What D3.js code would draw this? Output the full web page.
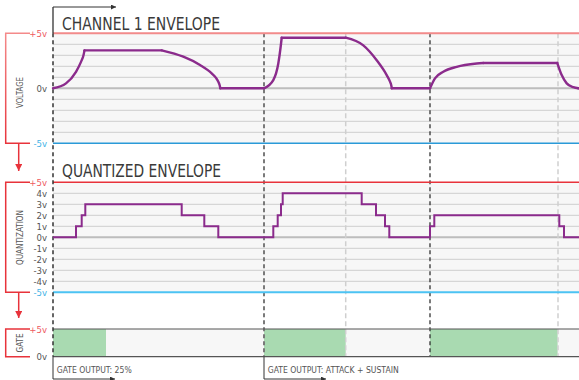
<!DOCTYPE html>
<html><head><meta charset="utf-8">
<script src="https://cdn.jsdelivr.net/npm/d3@7/dist/d3.min.js"></script>
<style>
body{margin:0;background:#fff}
svg{display:block}
text{font-family:'Liberation Sans Narrow','DejaVu Sans Condensed','Roboto',sans-serif}
</style>
</head><body>
<svg id="c" width="579" height="380"></svg>
<script>
// ---- data (time in arbitrary units, voltage in volts) ----
const titles = ["CHANNEL 1 ENVELOPE", "QUANTIZED ENVELOPE"];
const sideLabels = ["VOLTAGE", "QUANTIZATION", "GATE"];
const gateNotes = ["GATE OUTPUT: 25%", "GATE OUTPUT: ATTACK + SUSTAIN"];
const gateNoteT = [0, 211];

const envT = [0,13,23,28,30.5,31.5, 108.7,130.3,147,158.7,163,165.3,166.6,167.3,
              211,220.3,225.3,227.7,228.7,
              292.7,310.3,323.7,333.7,337,338.3,338.8,
              377,382,390.3,403.7,423.7,430.3,
              504.3,508.7,513.7,520.3,525.3,526];
const envV = [0,0.45,1.5,2.4,3.0,3.45, 3.45,2.87,2.12,1.36,0.95,0.6,0.3,0,
              0,0.75,2.25,3.8,4.6,
              4.6,3.9,2.55,1.2,0.6,0.25,0,
              0,0.9,1.5,1.95,2.25,2.3,
              2.3,1.2,0.45,0.1,0,0];
const envCorners = [0,5,6,13,14,18,19,25,26,31,32,36,37];

const qT = [0,23,28.7,32.3,128.7,151.3,165.3,220.3,224.7,228,229.7,308.7,323,332,336.3,377,381.3,506.3,511,526];
const qV = [0,1,2,3,2,1,0,1,2,3,4,3,2,1,0,1,2,1,0,0];

const gateStart = [0, 211, 377];
const gateEnd   = [53, 292.7, 504.6];

const markerT = [211, 292.7, 377, 505];
const markerKind = ["dark", "light", "black", "light"];

const panel1Ticks = [5, 0, -5];
const panel1TickLabels = ["+5v", "0v", "-5v"];
const panel2Ticks = [5,4,3,2,1,0,-1,-2,-3,-4,-5];
const panel2TickLabels = ["+5v","4v","3v","2v","1v","0v","-1v","-2v","-3v","-4v","-5v"];
const gateTicks = [5, 0];
const gateTickLabels = ["+5v", "0v"];
const gridVolts = [-4,-3,-2,-1,1,2,3,4];

// ---- layout ----
const svg = d3.select("#c");
const X0 = 53, X1 = 579;
const x = d3.scaleLinear().domain([0, 526]).range([X0, X1]);
const y1 = d3.scaleLinear().domain([-5, 5]).range([143.3, 33.3]);
const y2 = d3.scaleLinear().domain([-5, 5]).range([292.3, 182.3]);
const yG = d3.scaleLinear().domain([0, 5]).range([356.7, 329]);

const RED = "#e8333b", PINK = "#f28a8a", BLUE1 = "#2a9ad8", BLUE2 = "#4cc3f3";
const PURPLE = "#8b2b8c", GRID = "#d6d6d6", BG = "#f7f7f7";

// defs: arrowheads
const defs = svg.append("defs");
function marker(id, color, w, h) {
  defs.append("marker").attr("id", id).attr("viewBox", "0 0 10 10")
    .attr("refX", 10).attr("refY", 5).attr("markerWidth", w).attr("markerHeight", h)
    .attr("markerUnits", "userSpaceOnUse").attr("orient", "auto")
    .append("path").attr("d", "M0,0L10,5L0,10Z").attr("fill", color);
}
marker("arrRed", RED, 8, 7);
marker("arrDark", "#333", 5, 5);

// backgrounds
[[y1, PINK, BLUE1], [y2, RED, BLUE2]].forEach(([ys, top, bot]) => {
  svg.append("rect").attr("x", X0).attr("y", ys(5)).attr("width", X1 - X0)
    .attr("height", ys(-5) - ys(5)).attr("fill", BG);
  svg.append("g").selectAll("line").data(gridVolts).join("line")
    .attr("x1", X0).attr("x2", X1).attr("y1", d => ys(d)).attr("y2", d => ys(d))
    .attr("stroke", GRID).attr("stroke-width", 1.3);
  svg.append("line").attr("x1", X0).attr("x2", X1).attr("y1", ys(0)).attr("y2", ys(0))
    .attr("stroke", "#bdbdbd").attr("stroke-width", 2);
});
svg.append("rect").attr("x", X0).attr("y", yG(5)).attr("width", X1 - X0)
  .attr("height", yG(0) - yG(5)).attr("fill", BG);

// gate bars
svg.append("g").selectAll("rect").data(gateStart).join("rect")
  .attr("x", (d) => x(d)).attr("y", yG(5))
  .attr("width", (d, i) => x(gateEnd[i]) - x(d)).attr("height", yG(0) - yG(5))
  .attr("fill", "#a9dab1");

// vertical markers
const mStyle = {
  dark: {c: "#7a7a7a", w: 2, dash: "4,3"},
  light: {c: "#cfcfcf", w: 1.5, dash: "5,3"},
  black: {c: "#222", w: 1.2, dash: "4,3"}
};
svg.append("g").selectAll("line").data(markerT).join("line")
  .attr("x1", d => x(d)).attr("x2", d => x(d)).attr("y1", y1(5)).attr("y2", yG(0))
  .attr("stroke", (d, i) => mStyle[markerKind[i]].c)
  .attr("stroke-width", (d, i) => mStyle[markerKind[i]].w)
  .attr("stroke-dasharray", (d, i) => mStyle[markerKind[i]].dash);

// boundary lines
svg.append("line").attr("x1", X0).attr("x2", X1).attr("y1", y1(5)).attr("y2", y1(5)).attr("stroke", PINK).attr("stroke-width", 2);
svg.append("line").attr("x1", X0).attr("x2", X1).attr("y1", y1(-5)).attr("y2", y1(-5)).attr("stroke", BLUE1).attr("stroke-width", 1.5);
svg.append("line").attr("x1", X0).attr("x2", X1).attr("y1", y2(5)).attr("y2", y2(5)).attr("stroke", RED).attr("stroke-width", 1.5);
svg.append("line").attr("x1", X0).attr("x2", X1).attr("y1", y2(-5)).attr("y2", y2(-5)).attr("stroke", BLUE2).attr("stroke-width", 2);
[yG(5), yG(0)].forEach(yy => svg.append("line").attr("x1", X0).attr("x2", X1)
  .attr("y1", yy).attr("y2", yy).attr("stroke", "#555").attr("stroke-width", 1.2));

// main time axis (left)
svg.append("line").attr("x1", X0).attr("x2", X0).attr("y1", 7).attr("y2", y1(5)).attr("stroke", "#333").attr("stroke-width", 1.3);
svg.append("line").attr("x1", X0).attr("x2", X0).attr("y1", y1(5)).attr("y2", yG(0))
  .attr("stroke", "#333").attr("stroke-width", 1.5).attr("stroke-dasharray", "4,3");
svg.append("line").attr("x1", X0).attr("x2", 116).attr("y1", 7).attr("y2", 7)
  .attr("stroke", "#333").attr("stroke-width", 1).attr("marker-end", "url(#arrDark)");

// envelope curve
const envPts = envT.map((t, i) => [t, envV[i]]);
const envLine = d3.line().x(d => x(d[0])).y(d => y1(d[1])).curve(d3.curveMonotoneX);
const envG = svg.append("g");
for (let k = 0; k < envCorners.length - 1; k++) {
  const seg = envPts.slice(envCorners[k], envCorners[k + 1] + 1);
  envG.append("path").attr("d", envLine(seg)).attr("fill", "none")
    .attr("stroke", PURPLE).attr("stroke-width", 2.4).attr("stroke-linecap", "round");
}

// quantized step line
const qLine = d3.line().x(d => x(d[0])).y(d => y2(d[1])).curve(d3.curveStepAfter);
svg.append("path").attr("d", qLine(qT.map((t, i) => [t, qV[i]]))).attr("fill", "none")
  .attr("stroke", PURPLE).attr("stroke-width", 2);

// titles
svg.append("text").attr("x", 62).attr("y", 30).attr("font-size", 18).attr("fill", "#3a3a3a")
  .attr("font-family", "Roboto, 'DejaVu Sans Condensed', sans-serif").attr("font-weight", 300)
  .attr("textLength", 158).attr("lengthAdjust", "spacingAndGlyphs").text(titles[0]);
svg.append("text").attr("x", 62).attr("y", 177).attr("font-size", 18).attr("fill", "#3a3a3a")
  .attr("font-family", "Roboto, 'DejaVu Sans Condensed', sans-serif").attr("font-weight", 300)
  .attr("textLength", 159).attr("lengthAdjust", "spacingAndGlyphs").text(titles[1]);

// y axes (labels only)
function yAxis(scale, ticks, labels) {
  const g = svg.append("g").attr("transform", "translate(50,0)")
    .call(d3.axisLeft(scale).tickValues(ticks).tickSize(0).tickPadding(3)
      .tickFormat((d, i) => labels[i]));
  g.select(".domain").remove();
  g.selectAll("text").attr("font-size", 9.5)
    .attr("font-family", "'Liberation Sans Narrow','DejaVu Sans Condensed',sans-serif")
    .attr("fill", d => d === 5 ? "#ee5a5f" : (d === -5 ? "#45b3e6" : "#555"));
}
yAxis(y1, panel1Ticks, panel1TickLabels);
yAxis(y2, panel2Ticks, panel2TickLabels);
yAxis(yG, gateTicks, gateTickLabels);

// side brackets
const grad = defs.append("linearGradient").attr("id", "g1").attr("x1", 0).attr("y1", 0).attr("x2", 0).attr("y2", 1);
grad.append("stop").attr("offset", "0%").attr("stop-color", "#f48a8a");
grad.append("stop").attr("offset", "100%").attr("stop-color", RED);
function bracket(top, bot, stroke) {
  svg.append("path").attr("d", `M30,${top}H5.7V${bot}H30`).attr("fill", "none")
    .attr("stroke", stroke).attr("stroke-width", 1.5);
}
bracket(y1(5), y1(-5), "url(#g1)");
bracket(y2(5), y2(-5), RED);
bracket(yG(5), yG(0), RED);
svg.append("line").attr("x1", 18.7).attr("x2", 18.7).attr("y1", y1(-5)).attr("y2", 171)
  .attr("stroke", RED).attr("stroke-width", 1.5).attr("marker-end", "url(#arrRed)");
svg.append("line").attr("x1", 18.7).attr("x2", 18.7).attr("y1", y2(-5)).attr("y2", 318)
  .attr("stroke", RED).attr("stroke-width", 1.5).attr("marker-end", "url(#arrRed)");

// rotated side labels
const sideCenters = [92.5, 237.5, 343];
const sideLens = [31, 55, 19];
sideLabels.forEach((s, i) => {
  svg.append("text").attr("transform", `translate(22.5,${sideCenters[i]}) rotate(-90)`)
    .attr("text-anchor", "middle").attr("font-size", 9.5).attr("fill", "#555")
    .attr("textLength", sideLens[i]).attr("lengthAdjust", "spacingAndGlyphs").text(s);
});

// gate output notes
const noteLens = [75, 131];
gateNotes.forEach((s, i) => {
  const gx = x(gateNoteT[i]);
  svg.append("path").attr("d", `M${gx},${yG(0)}V379H${gx + 62}`).attr("fill", "none")
    .attr("stroke", "#333").attr("stroke-width", 1).attr("marker-end", "url(#arrDark)");
  svg.append("text").attr("x", gx + 3.7).attr("y", 372.5).attr("font-size", 9.5).attr("fill", "#555")
    .attr("textLength", noteLens[i]).attr("lengthAdjust", "spacingAndGlyphs").text(s);
});
</script>
</body></html>
